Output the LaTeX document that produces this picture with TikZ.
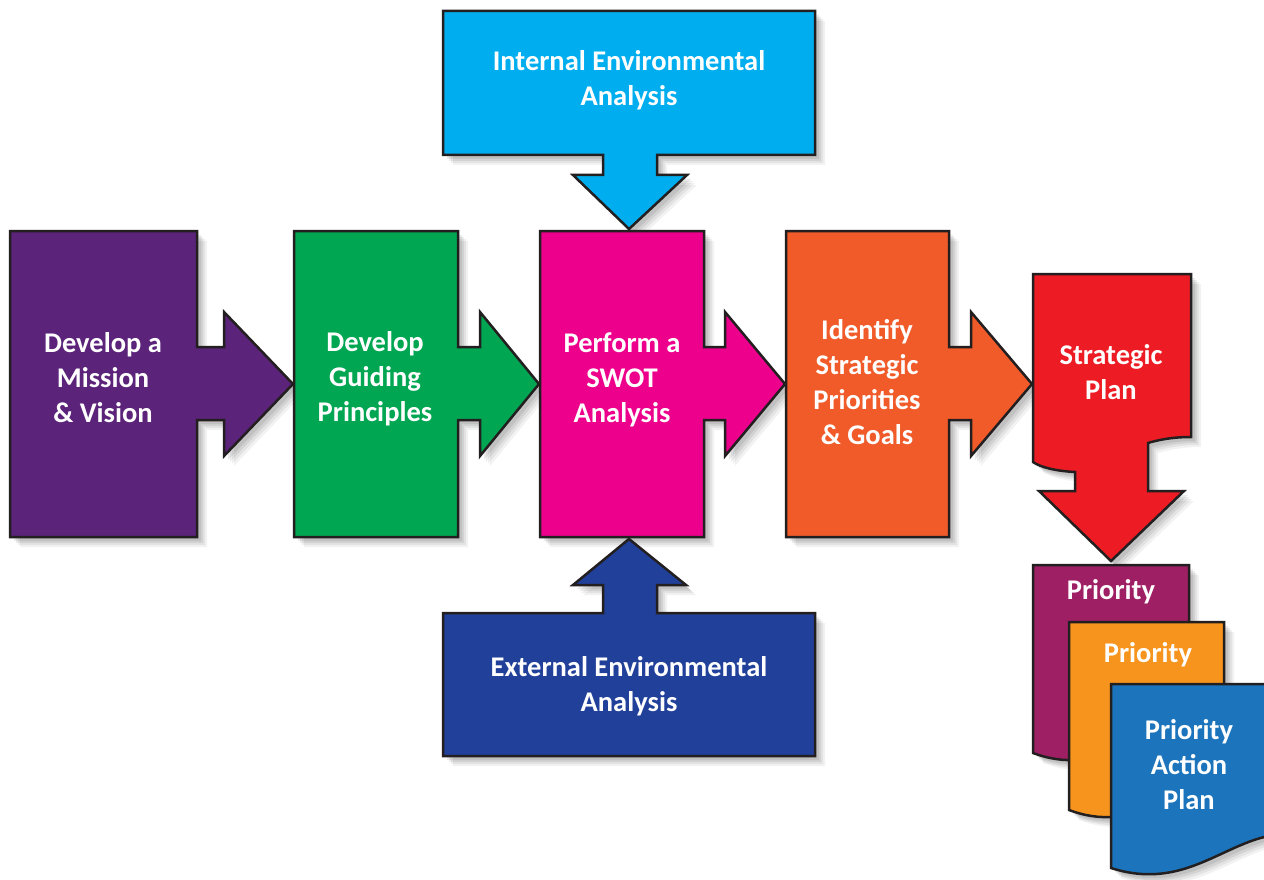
\documentclass[tikz,border=0pt]{standalone}
\usepackage{fontspec}
\setmainfont{Carlito}
\definecolor{outl}{HTML}{231F20}
\definecolor{cpurple}{HTML}{5B2379}
\definecolor{cgreen}{HTML}{00A651}
\definecolor{cpink}{HTML}{EC008C}
\definecolor{corange}{HTML}{F15A29}
\definecolor{cred}{HTML}{ED1C24}
\definecolor{ccyan}{HTML}{00AEEF}
\definecolor{cnavy}{HTML}{21409A}
\definecolor{cplum}{HTML}{9E1F63}
\definecolor{camber}{HTML}{F7941D}
\definecolor{cblue}{HTML}{1C75BC}
\tikzset{
  softshadow/.style={
    preaction={fill=black,opacity=0.05,transform canvas={xshift=10pt,yshift=-10pt}},
    preaction={fill=black,opacity=0.06,transform canvas={xshift=8pt,yshift=-8pt}},
    preaction={fill=black,opacity=0.07,transform canvas={xshift=6pt,yshift=-6pt}},
    preaction={fill=black,opacity=0.08,transform canvas={xshift=4pt,yshift=-4pt}}},
  shp/.style={softshadow, draw=outl, line width=2.5pt, line join=miter, fill=#1},
  lbl/.style={text=white, align=center, font=\fontsize{28.5}{35}\selectfont\bfseries, inner sep=0pt}
}
\begin{document}
\begin{tikzpicture}[x=1pt,y=-1pt]
\clip (0,0) rectangle (1264,880);
\fill[white] (0,0) rectangle (1264,880);
% internal (top)
\path[shp=ccyan] (443,11) -- (815,11) -- (815,155) -- (657,155) -- (657,175) -- (687,175) -- (629,229) -- (573,175) -- (603,175) -- (603,155) -- (443,155) -- cycle;
\node[lbl] (internal) at (629,80) {Internal Environmental\\Analysis};
% purple
\path[shp=cpurple] (10,231) -- (197,231) -- (197,347) -- (224,347) -- (224,312) -- (293,384) -- (224,456) -- (224,420) -- (197,420) -- (197,537) -- (10,537) -- cycle;
\node[lbl] (mission) at (103,378) {Develop a\\Mission\\\& Vision};
% green
\path[shp=cgreen] (294,231) -- (458,231) -- (458,347) -- (480,347) -- (480,312) -- (539,384) -- (480,456) -- (480,420) -- (458,420) -- (458,537) -- (294,537) -- cycle;
\node[lbl] (guiding) at (375,379) {Develop\\Guiding\\Principles};
% pink
\path[shp=cpink] (540,231) -- (704,231) -- (704,347) -- (725,347) -- (725,312) -- (785,384) -- (725,456) -- (725,420) -- (704,420) -- (704,537) -- (540,537) -- cycle;
\node[lbl] (swot) at (622,380) {Perform a\\SWOT\\Analysis};
% orange
\path[shp=corange] (786,231) -- (949,231) -- (949,347) -- (971,347) -- (971,312) -- (1032,384) -- (971,456) -- (971,420) -- (949,420) -- (949,537) -- (786,537) -- cycle;
\node[lbl] (goals) at (867,382) {Identify\\Strategic\\Priorities\\\& Goals};
% external (bottom)
\path[shp=cnavy] (443,756) -- (815,756) -- (815,613) -- (657,613) -- (657,585) -- (686,585) -- (629,539) -- (573,585) -- (603,585) -- (603,613) -- (443,613) -- cycle;
\node[lbl] (external) at (629,686) {External Environmental\\Analysis};
% strategic plan
\path[shp=cred] (1033,274) -- (1191,274) -- (1191,437) .. controls (1172,437) and (1158,440) .. (1148,443) -- (1148,491) -- (1184,491) -- (1111,561) -- (1039,491) -- (1075,491) -- (1075,472) .. controls (1055,471) and (1040,467) .. (1033,462) -- cycle;
\node[lbl] (plan) at (1111,372) {Strategic\\Plan};
% priority documents
\path[shp=cplum] (1033,565) -- (1189,565) -- (1189,745) .. controls (1135,728) and (1100,778) .. (1033,753) -- cycle;
\node[lbl] (prio1) at (1111,592) {Priority};
\path[shp=camber] (1069,622) -- (1224,622) -- (1224,802) .. controls (1170,785) and (1135,835) .. (1069,810) -- cycle;
\node[lbl] (prio2) at (1148,655) {Priority};
\path[shp=cblue] (1111,684) -- (1300,684) -- (1300,835) .. controls (1235,825) and (1195,895) .. (1111,868) -- cycle;
\node[lbl] (prio3) at (1189,765) {Priority\\Action\\Plan};
\end{tikzpicture}
\end{document}
